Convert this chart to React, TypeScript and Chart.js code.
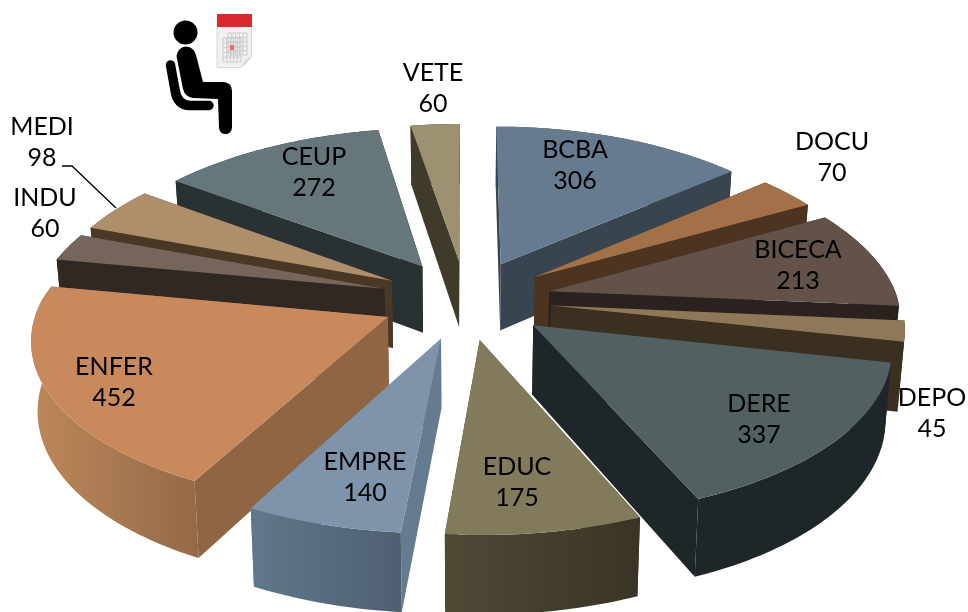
import React, { useEffect, useRef } from "react";
import { Chart, registerables } from "chart.js";

Chart.register(...registerables);

const categories = ["BCBA", "DOCU", "BICECA", "DEPO", "DERE", "EDUC", "EMPRE", "ENFER", "INDU", "MEDI", "CEUP", "VETE"];
const values = [306, 70, 213, 45, 337, 175, 140, 452, 60, 98, 272, 60];

const topColors = ["#667b8f", "#a37148", "#62524a", "#8e7858", "#526062", "#827b5b", "#7d94ab", "#c8895c", "#75655b", "#ae8f69", "#66777c", "#9c9170"];
const wallColors = ["#38444f", "#4d3420", "#2a221e", "#3b2f20", "#1f2629", "#3f3a2a", "#667b8f", "#8f6544", "#302823", "#4a3826", "#293133", "#3f3a2a"];
const rimLeftColors = ["#38444f", "#4d3420", "#2a221e", "#3b2f20", "#1f2629", "#4f4936", "#62778b", "#bd8859", "#302823", "#4a3826", "#293133", "#3f3a2a"];
const rimRightColors = ["#38444f", "#4d3420", "#2a221e", "#3b2f20", "#1f2629", "#393424", "#4e6070", "#966a48", "#302823", "#4a3826", "#293133", "#3f3a2a"];

const labelAnchors = [
  [575, 150], [832, 142], [798, 250], [932, 398], [759, 404], [517, 467],
  [365, 462], [114, 367], [45, 198], [42, 127], [314, 157], [433, 73],
];

const VIEW = { cx: 466, cy: 299.5, rx: 348.5, ry: 161.7, k: 0.118, depth: 68, shrink: 0.985, rearTaper: 0.03 };

type P = [number, number];

function project(u: number, v: number, bottom: boolean): P {
  const s = 1 / (1 - VIEW.k * v);
  const taper = v < 0 ? 1 + VIEW.rearTaper * v : 1;
  const x = VIEW.rx * u * s * taper;
  const y = VIEW.cy + VIEW.ry * v * s;
  return bottom ? [VIEW.cx + x * VIEW.shrink, y + VIEW.depth * s] : [VIEW.cx + x, y];
}

function fillPoly(ctx: CanvasRenderingContext2D, pts: P[], fill: string | CanvasGradient) {
  ctx.beginPath();
  pts.forEach((p, i) => (i ? ctx.lineTo(p[0], p[1]) : ctx.moveTo(p[0], p[1])));
  ctx.closePath();
  ctx.fillStyle = fill;
  ctx.fill();
}

const pie3d = {
  id: "pie3d",
  beforeDatasetDraw(chart: any, args: any) {
    const ctx: CanvasRenderingContext2D = chart.ctx;
    const arcs: any[] = args.meta.data;
    const order = arcs
      .map((arc, i) => {
        const mid = (arc.startAngle + arc.endAngle) / 2;
        return { arc, i, mid, depth: Math.sin(mid) };
      })
      .sort((a, b) => a.depth - b.depth);

    for (const { arc, i, mid } of order) {
      const d = arc.options.offset / arc.outerRadius;
      const ou = d * Math.cos(mid);
      const ov = d * Math.sin(mid);
      const steps = Math.max(4, Math.ceil((arc.endAngle - arc.startAngle) / 0.02));
      const rimUV: P[] = [];
      for (let s = 0; s <= steps; s++) {
        const a = arc.startAngle + ((arc.endAngle - arc.startAngle) * s) / steps;
        rimUV.push([ou + Math.cos(a), ov + Math.sin(a)]);
      }
      const rimTop = rimUV.map(([u, v]) => project(u, v, false));
      const rimBot = rimUV.map(([u, v]) => project(u, v, true));
      const tipTop = project(ou, ov, false);
      const tipBot = project(ou, ov, true);

      const xs = rimTop.map((p) => p[0]);
      const grad = ctx.createLinearGradient(Math.min(...xs), 0, Math.max(...xs), 0);
      grad.addColorStop(0, rimLeftColors[i]);
      grad.addColorStop(1, rimRightColors[i]);

      const avgY = (pts: P[]) => pts.reduce((t, p) => t + p[1], 0) / pts.length;
      const pieces: { pts: P[]; fill: string | CanvasGradient }[] = [
        { pts: [...rimTop, ...rimBot.slice().reverse()], fill: grad },
        { pts: [tipTop, rimTop[0], rimBot[0], tipBot], fill: wallColors[i] },
        { pts: [tipTop, rimTop[steps], rimBot[steps], tipBot], fill: wallColors[i] },
      ];
      pieces.sort((a, b) => avgY(a.pts) - avgY(b.pts));
      pieces.forEach((p) => fillPoly(ctx, p.pts, p.fill));
      fillPoly(ctx, [tipTop, ...rimTop], arc.options.backgroundColor);
    }
    return false;
  },
  afterDraw(chart: any) {
    const ctx: CanvasRenderingContext2D = chart.ctx;
    ctx.save();
    // leader line
    ctx.strokeStyle = "#000";
    ctx.lineWidth = 1.3;
    ctx.beginPath();
    ctx.moveTo(62, 166);
    ctx.lineTo(72, 166);
    ctx.lineTo(116, 208);
    ctx.stroke();

    // labels
    ctx.fillStyle = "#000";
    ctx.font = '25px Lato, "Open Sans", sans-serif';
    ctx.textAlign = "center";
    ctx.textBaseline = "middle";
    categories.forEach((c, i) => {
      const [x, y] = labelAnchors[i];
      ctx.fillText(c, x, y);
      ctx.fillText(String(values[i]), x, y + 30.5);
    });

    // seated person
    ctx.fillStyle = "#000";
    ctx.strokeStyle = "#000";
    ctx.lineCap = "round";
    ctx.lineJoin = "round";
    ctx.beginPath();
    ctx.arc(185.5, 32.5, 12, 0, Math.PI * 2);
    ctx.fill();
    ctx.beginPath();
    ctx.moveTo(176.5, 56);
    ctx.quadraticCurveTo(178, 47, 186, 46.5);
    ctx.quadraticCurveTo(194, 47, 196, 55);
    ctx.lineTo(203, 82);
    ctx.lineTo(224, 82);
    ctx.quadraticCurveTo(232, 83, 232, 91);
    ctx.lineTo(232, 128);
    ctx.quadraticCurveTo(231, 134, 225.5, 134);
    ctx.quadraticCurveTo(220, 134, 219, 128);
    ctx.lineTo(218, 99);
    ctx.lineTo(193, 98);
    ctx.quadraticCurveTo(185, 97, 183, 89);
    ctx.closePath();
    ctx.fill();
    ctx.lineWidth = 9.5;
    ctx.beginPath();
    ctx.moveTo(170.5, 65);
    ctx.lineTo(175, 90);
    ctx.quadraticCurveTo(177, 105, 190, 105.5);
    ctx.lineTo(209, 105.5);
    ctx.stroke();

    // calendar
    ctx.fillStyle = "#f1f1f1";
    ctx.fillRect(217, 16, 35, 52);
    ctx.strokeStyle = "#d6d6d6";
    ctx.lineWidth = 1;
    ctx.strokeRect(217.5, 16.5, 34, 51);
    ctx.fillStyle = "#d9292e";
    ctx.fillRect(217, 14, 35, 13);
    ctx.strokeStyle = "#c4c4c4";
    ctx.lineWidth = 0.8;
    ctx.lineCap = "butt";
    for (let c = 0; c <= 5; c++) {
      ctx.beginPath();
      ctx.moveTo(228 + c * 3.8, 33);
      ctx.lineTo(228 + c * 3.8, 55);
      ctx.moveTo(223 + c * 3.6, 38);
      ctx.lineTo(223 + c * 3.6, 62);
      ctx.stroke();
    }
    for (let r = 0; r <= 5; r++) {
      ctx.beginPath();
      ctx.moveTo(228, 33 + r * 4.4);
      ctx.lineTo(247, 33 + r * 4.4);
      ctx.moveTo(223, 38 + r * 4.8);
      ctx.lineTo(241, 38 + r * 4.8);
      ctx.stroke();
    }
    ctx.fillStyle = "#ee6a64";
    ctx.fillRect(230, 45, 4, 5);
    ctx.fillStyle = "#ffffff";
    ctx.beginPath();
    ctx.moveTo(252, 56);
    ctx.lineTo(241, 68);
    ctx.lineTo(252, 68);
    ctx.closePath();
    ctx.fill();
    ctx.fillStyle = "#dcdcdc";
    ctx.beginPath();
    ctx.moveTo(252, 56);
    ctx.quadraticCurveTo(244, 58, 241, 68);
    ctx.quadraticCurveTo(248, 63, 252, 56);
    ctx.fill();
    ctx.restore();
  },
};

export default function App() {
  const ref = useRef<HTMLCanvasElement | null>(null);
  useEffect(() => {
    document.body.style.margin = "0";
    const chart = new Chart(ref.current as HTMLCanvasElement, {
      type: "pie",
      data: {
        labels: categories,
        datasets: [{ data: values, backgroundColor: topColors, borderWidth: 0, offset: 67 }],
      },
      options: {
        animation: false,
        responsive: false,
        plugins: { legend: { display: false }, tooltip: { enabled: false } },
      },
      plugins: [pie3d],
    } as any);
    return () => chart.destroy();
  }, []);
  return (
    <div style={{ position: "absolute", left: 0, top: 0, width: 968, height: 612, overflow: "hidden", background: "#fff" }}>
      <canvas ref={ref} width={968} height={612} style={{ display: "block" }} />
    </div>
  );
}
